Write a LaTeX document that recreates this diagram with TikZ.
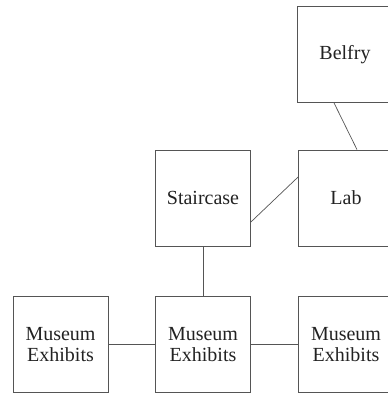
\documentclass[tikz,border=0pt]{standalone}
\usepackage{fontspec}
\setmainfont{Liberation Serif}
\usetikzlibrary{positioning,calc}
\definecolor{Wall}{HTML}{555555}
\definecolor{Ink}{HTML}{222222}

\begin{document}
\begin{tikzpicture}[x=1pt,y=-1pt,
  room/.style={draw=Wall,line width=0.8pt,minimum width=95pt,minimum height=96pt,
    inner sep=0pt,align=center,text=Ink,font=\fontsize{20}{21}\selectfont},
  link/.style={draw=Wall,line width=0.7pt}]
\useasboundingbox (0,0) rectangle (387,395);
% rooms
\node[room] (belfry) at (345,54.5) {Belfry};
\node[room] (stair) at (203,198) {Staircase};
\node[room] (lab) at (346,198) {Lab};
\node[room] (mleft) at (60.5,344.5) {Museum\\Exhibits};
\node[room] (mmid) at (203,344.5) {Museum\\Exhibits};
\node[room] (mright) at (346,344.5) {Museum\\Exhibits};
% links
\draw[link] ([xshift=-11pt]belfry.south) -- ([xshift=11pt]lab.north);
\draw[link] ([yshift=-24pt]stair.east) -- ([yshift=21pt]lab.west);
\draw[link] (stair.south) -- (mmid.north);
\draw[link] (mleft.east) -- (mmid.west);
\draw[link] (mmid.east) -- (mright.west);
\end{tikzpicture}
\end{document}
